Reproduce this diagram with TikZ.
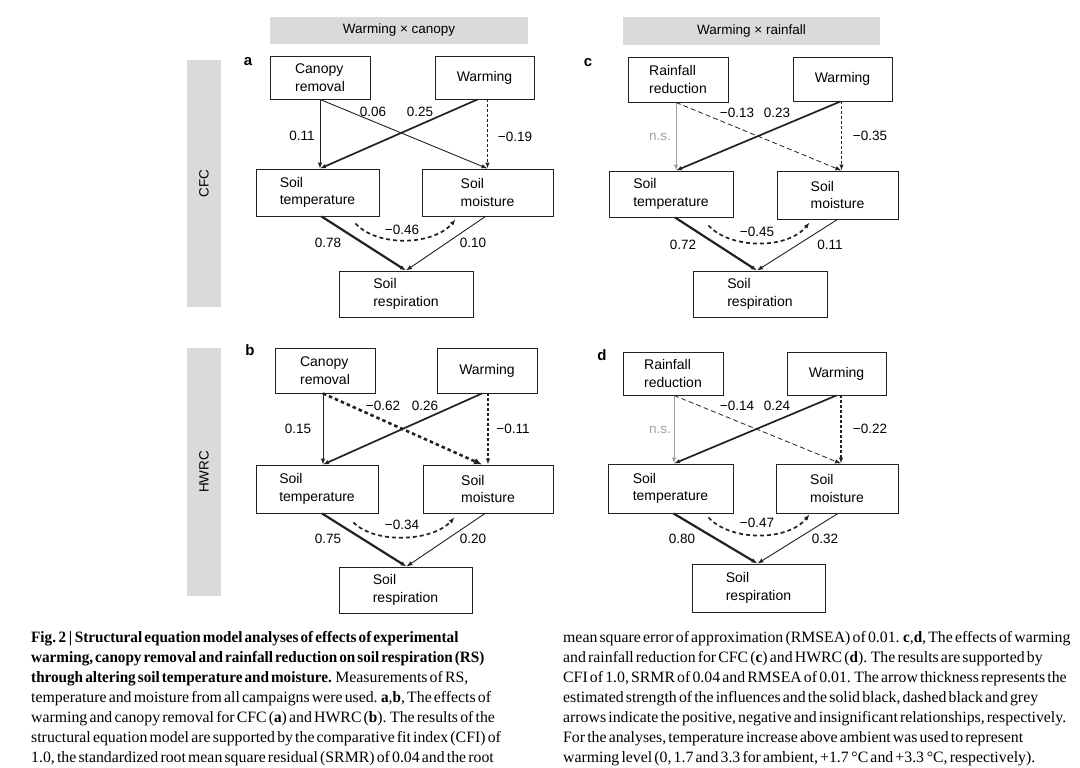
\documentclass[tikz,border=0pt]{standalone}
\usepackage{fontspec}
\setmainfont{Liberation Serif}
\setsansfont{Liberation Sans}
\newfontfamily\capfont{Liberation Serif}[WordSpace=0.55,BoldFeatures={FakeStretch=0.96}]
\usepackage{tikz}
\usetikzlibrary{calc,arrows.meta}
\definecolor{barx}{HTML}{DADADA}
\definecolor{nsx}{HTML}{A0A0A0}
\definecolor{linex}{HTML}{222222}
\tikzset{
  box/.style={draw=linex,line width=0.9pt,align=left,inner sep=2pt,font=\sffamily\fontsize{14}{17.5}\selectfont},
  bar/.style={fill=barx,inner sep=0pt,font=\sffamily\fontsize{13.5}{16}\selectfont},
  num/.style={inner sep=1pt,font=\sffamily\fontsize{13.5}{16}\selectfont},
  tag/.style={inner sep=0pt,font=\sffamily\bfseries\fontsize{15}{15}\selectfont},
  captext/.style={anchor=north west,align=left,inner sep=0pt,font=\capfont\fontsize{15.8}{20}\selectfont},
  ar/.style={-{Latex[length=6pt,width=4.5pt]},linex},
  arthin/.style={ar,line width=0.9pt},
  armid/.style={ar,line width=1.7pt},
  arthick/.style={ar,line width=2.2pt},
  arns/.style={ar,line width=0.9pt,nsx},
  ardash/.style={ar,line width=1.3pt,dash pattern=on 3pt off 2pt},
  ardashthin/.style={ar,line width=0.8pt,dash pattern=on 5pt off 3pt},
  ardashthick/.style={-{Latex[length=8pt,width=7pt]},linex,line width=2.6pt,dash pattern=on 3.5pt off 3pt},
  arcurve/.style={ar,line width=1.7pt,dash pattern=on 4pt off 3pt}
}

\begin{document}
\begin{tikzpicture}[x=1pt,y=-1pt]
\fill[white] (0,0) rectangle (1080,768);
\useasboundingbox (0,0) rectangle (1080,768);
% headers and side bars
\node[bar,minimum width=258,minimum height=27] (hcan) at (399,30.5) {Warming × canopy};
\node[bar,minimum width=257,minimum height=28] (hrain) at (751.5,31) {Warming × rainfall};
\node[bar,rotate=90,minimum width=247,minimum height=34] (cfc) at (204,183.5) {CFC};
\node[bar,rotate=90,minimum width=248,minimum height=34] (hwrc) at (204,472) {HWRC};
\node[tag] (tga) at (248,62) {a};
\node[tag] (tgb) at (250,350) {b};
\node[tag] (tgc) at (588,63) {c};
\node[tag] (tgd) at (602,355) {d};

% panel a
\node[box,minimum width=100,minimum height=43] (canA) at (320,77.5) {Canopy\\removal};
\node[box,minimum width=99,minimum height=43] (warmA) at (484.5,77.5) {Warming};
\node[box,minimum width=123,minimum height=47] (tempA) at (317.5,192.5) {Soil\\temperature};
\node[box,minimum width=131,minimum height=47] (moistA) at (487.5,192.5) {Soil\\moisture};
\node[box,minimum width=134,minimum height=46] (respA) at (406,294) {Soil\\respiration};
\coordinate (tA) at (canA.south |- tempA.north);
\coordinate (mA) at (moistA.north);
\draw[arthin] (canA.south) -- (tA);
\draw[arthin] (canA.south) -- (mA);
\draw[armid] ([xshift=-7]warmA.south) -- (tA);
\draw[ardash] (warmA.south -| mA) -- (mA);
\draw[arthick] ([xshift=4]tempA.south) -- (respA.north);
\draw[arthin] ([xshift=-2]moistA.south) -- (respA.north);
\draw[arcurve] ($(tempA.south east)+(-24,7)$) .. controls +(22,24) and +(-22,26) .. ($(moistA.south west)+(34,3)$);
\node[num] (la1) at (302,136) {0.11};
\node[num] (la2) at (373,112) {0.06};
\node[num] (la3) at (420,112) {0.25};
\node[num] (la4) at (515,137) {−0.19};
\node[num] (la5) at (328,243) {0.78};
\node[num] (la6) at (473,243) {0.10};
\node[num] (la7) at (402,230) {−0.46};

% panel b
\node[box,minimum width=100,minimum height=45] (canB) at (325,370.5) {Canopy\\removal};
\node[box,minimum width=100,minimum height=45] (warmB) at (487,370.5) {Warming};
\node[box,minimum width=122,minimum height=48] (tempB) at (317,489) {Soil\\temperature};
\node[box,minimum width=130,minimum height=48] (moistB) at (488,489) {Soil\\moisture};
\node[box,minimum width=133,minimum height=46] (respB) at (405.5,590) {Soil\\respiration};
\coordinate (cB) at ([xshift=-2]canB.south);
\coordinate (tB) at (cB |- tempB.north);
\coordinate (mB) at (moistB.north);
\draw[arthin] (cB) -- (tB);
\draw[ardashthick] (cB) -- ([xshift=-6]mB);
\draw[armid] ([xshift=-5]warmB.south) -- (tB);
\draw[ardash] (warmB.south -| mB) -- (mB);
\draw[arthick] ([xshift=5]tempB.south) -- ([xshift=1]respB.north);
\draw[arthin] ([xshift=-3]moistB.south) -- ([xshift=1]respB.north);
\draw[arcurve] ($(tempB.south east)+(-25,9)$) .. controls +(22,22) and +(-22,24) .. ($(moistB.south west)+(32,4)$);
\node[num] (lb1) at (298,429) {0.15};
\node[num] (lb2) at (383,406) {−0.62};
\node[num] (lb3) at (425,406) {0.26};
\node[num] (lb4) at (513,429) {−0.11};
\node[num] (lb5) at (328,539) {0.75};
\node[num] (lb6) at (473,539) {0.20};
\node[num] (lb7) at (402,525) {−0.34};

% panel c
\node[box,minimum width=100,minimum height=45] (rainC) at (678,79.5) {Rainfall\\reduction};
\node[box,minimum width=99,minimum height=44] (warmC) at (842.5,79) {Warming};
\node[box,minimum width=124,minimum height=46] (tempC) at (671,194) {Soil\\temperature};
\node[box,minimum width=121,minimum height=48] (moistC) at (837.5,195) {Soil\\moisture};
\node[box,minimum width=134,minimum height=46] (respC) at (760,294) {Soil\\respiration};
\coordinate (rC) at ([xshift=-2]rainC.south);
\coordinate (tC) at (rC |- tempC.north);
\coordinate (mC) at ([xshift=4]moistC.north);
\draw[arns] (rC) -- (tC);
\draw[ardashthin] (rC) -- (mC);
\draw[armid] ([xshift=-2]warmC.south) -- (tC);
\draw[ardash] (warmC.south -| mC) -- (mC);
\draw[arthick] ([xshift=4]tempC.south) -- ([xshift=-3]respC.north);
\draw[arthin] (moistC.south) -- ([xshift=-3]respC.north);
\draw[arcurve] ($(tempC.south east)+(-25,8)$) .. controls +(22,24) and +(-22,27) .. ($(moistC.south west)+(33,3)$);
\node[num,nsx] (lc1) at (660,137) {n.s.};
\node[num] (lc2) at (737,113) {−0.13};
\node[num] (lc3) at (777,113) {0.23};
\node[num] (lc4) at (870,136) {−0.35};
\node[num] (lc5) at (683,245) {0.72};
\node[num] (lc6) at (830,245) {0.11};
\node[num] (lc7) at (757,232) {−0.45};

% panel d
\node[box,minimum width=100,minimum height=43] (rainD) at (673,373.5) {Rainfall\\reduction};
\node[box,minimum width=99,minimum height=43] (warmD) at (836.5,373.5) {Warming};
\node[box,minimum width=125,minimum height=49] (tempD) at (670.5,488.5) {Soil\\temperature};
\node[box,minimum width=122,minimum height=49] (moistD) at (837,488.5) {Soil\\moisture};
\node[box,minimum width=133,minimum height=48] (respD) at (758.5,588) {Soil\\respiration};
\coordinate (rD) at ([xshift=1]rainD.south);
\coordinate (tD) at (rD |- tempD.north);
\coordinate (mD) at ([xshift=4]moistD.north);
\draw[arns] (rD) -- (tD);
\draw[ardashthin] (rD) -- (mD);
\draw[armid] (warmD.south) -- (tD);
\draw[ardash] (warmD.south -| mD) -- (mD);
\draw[arthick] ([xshift=3]tempD.south) -- ([xshift=-1]respD.north);
\draw[arthin] ([xshift=1]moistD.south) -- ([xshift=-1]respD.north);
\draw[arcurve] ($(tempD.south east)+(-25,4)$) .. controls +(22,24) and +(-22,27) .. ($(moistD.south west)+(34,1)$);
\node[num,nsx] (ld1) at (660,430) {n.s.};
\node[num] (ld2) at (737,406) {−0.14};
\node[num] (ld3) at (777,406) {0.24};
\node[num] (ld4) at (870,429) {−0.22};
\node[num] (ld5) at (682,539) {0.80};
\node[num] (ld6) at (825,539) {0.32};
\node[num] (ld7) at (757,523) {−0.47};

% caption
\node[captext] (capl) at (31,631) {\textbf{Fig.\,2\,|\,Structural equation model analyses of effects of experimental}\\
\textbf{warming, canopy removal and rainfall reduction on soil respiration (RS)}\\
\textbf{through altering soil temperature and moisture.} Measurements of RS,\\
temperature and moisture from all campaigns were used. \textbf{a},\textbf{b}, The effects of\\
warming and canopy removal for CFC (\textbf{a}) and HWRC (\textbf{b}). The results of the\\
structural equation model are supported by the comparative fit index (CFI) of\\
1.0, the standardized root mean square residual (SRMR) of 0.04 and the root};
\node[captext] (capr) at (563,631) {mean square error of approximation (RMSEA) of 0.01. \textbf{c},\textbf{d}, The effects of warming\\
and rainfall reduction for CFC (\textbf{c}) and HWRC (\textbf{d}). The results are supported by\\
CFI of 1.0, SRMR of 0.04 and RMSEA of 0.01. The arrow thickness represents the\\
estimated strength of the influences and the solid black, dashed black and grey\\
arrows indicate the positive, negative and insignificant relationships, respectively.\\
For the analyses, temperature increase above ambient was used to represent\\
warming level (0, 1.7 and 3.3 for ambient, +1.7\,°C and +3.3\,°C, respectively).};
\end{tikzpicture}
\end{document}
